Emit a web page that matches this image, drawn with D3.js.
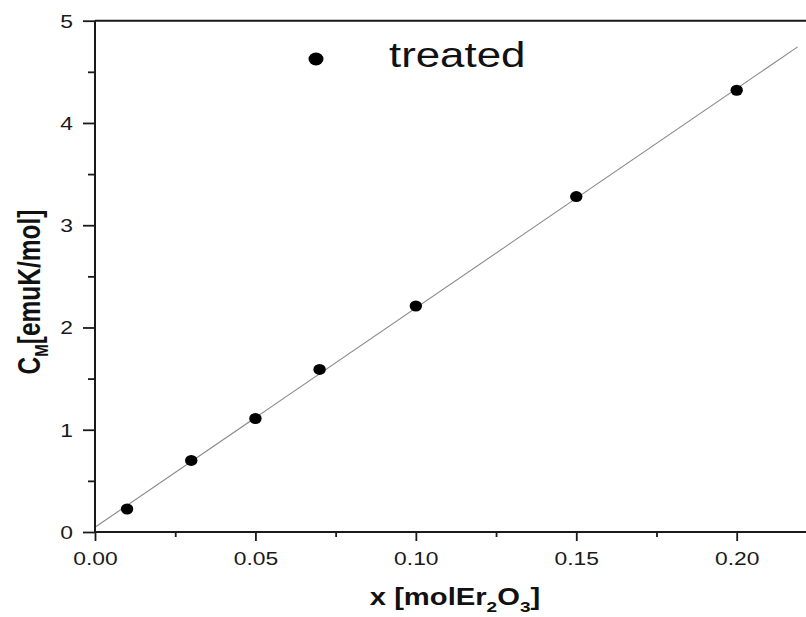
<!DOCTYPE html>
<html>
<head>
<meta charset="utf-8">
<script src="https://cdn.jsdelivr.net/npm/d3@7"></script>
<style>
  html, body { margin: 0; padding: 0; background: #fff; }
  svg { display: block; font-family: "Liberation Sans", Arial, sans-serif; }
</style>
</head>
<body>
<svg id="chart" width="806" height="617"></svg>
<script>
// ---- data ----
const xValues = [0.01, 0.03, 0.05, 0.07, 0.10, 0.15, 0.20];
const yValues = [0.225, 0.70, 1.11, 1.59, 2.21, 3.28, 4.32];
const fitX = [0.0, 0.219];
const fitY = [0.046, 4.744];
const xTickValues = [0.00, 0.05, 0.10, 0.15, 0.20];
const xMinorTicks = [0.025, 0.075, 0.125, 0.175, 0.225];
const yTickValues = [0, 1, 2, 3, 4, 5];
const yMinorTicks = [0.5, 1.5, 2.5, 3.5, 4.5];
const seriesName = "treated";

const SX = 1.27; // horizontal stretch of the original picture's text
const svg = d3.select("#chart");
const plotLeft = 95, plotBottom = 532, plotTop = 20.7;
const x = d3.scaleLinear().domain([0, 0.2216]).range([plotLeft, 806]);
const y = d3.scaleLinear().domain([0, 5]).range([plotBottom, plotTop]);

const axisColor = "#1a1a1a";

// fit line
svg.append("path")
  .datum(fitX.map((v, i) => [v, fitY[i]]))
  .attr("fill", "none")
  .attr("stroke", "#8a8a8a")
  .attr("stroke-width", 1.1)
  .attr("d", d3.line().x(d => x(d[0])).y(d => y(d[1])));

// points
svg.append("g").selectAll("ellipse")
  .data(xValues.map((v, i) => [v, yValues[i]]))
  .join("ellipse")
  .attr("cx", d => x(d[0]))
  .attr("cy", d => y(d[1]))
  .attr("rx", 6.2)
  .attr("ry", 5.5)
  .attr("fill", "#000");

// x axis
const gx = svg.append("g").attr("transform", `translate(0,${plotBottom})`);
gx.call(d3.axisBottom(x).tickValues(xTickValues).tickSize(9).tickPadding(6)
  .tickFormat(d3.format(".2f")));
const gxm = svg.append("g").attr("transform", `translate(0,${plotBottom})`);
gxm.call(d3.axisBottom(x).tickValues(xMinorTicks).tickSize(5).tickFormat(""));
gxm.select(".domain").remove();

// y axis
const gy = svg.append("g").attr("transform", `translate(${plotLeft},0)`);
gy.call(d3.axisLeft(y).tickValues(yTickValues).tickSize(12).tickFormat(d3.format("d")));
const gym = svg.append("g").attr("transform", `translate(${plotLeft},0)`);
gym.call(d3.axisLeft(y).tickValues(yMinorTicks).tickSize(7).tickFormat(""));
gym.select(".domain").remove();

[gx, gxm, gy, gym].forEach(g => {
  g.selectAll("line").attr("stroke", axisColor).attr("stroke-width", 1.8);
  g.select(".domain").attr("stroke", axisColor).attr("stroke-width", 2);
});
gx.select(".domain").attr("d", `M${plotLeft},0H806`);
gy.select(".domain").attr("d", `M0,${plotBottom}V${plotTop}`);

gx.selectAll("text")
  .attr("font-size", 18)
  .attr("fill", "#1a1a1a")
  .attr("font-family", "Liberation Sans, Arial, sans-serif")
  .attr("y", 0).attr("dy", 0)
  .attr("transform", `translate(0,32.8) scale(${SX},1)`);
gy.selectAll("text")
  .attr("font-size", 18)
  .attr("fill", "#1a1a1a")
  .attr("font-family", "Liberation Sans, Arial, sans-serif")
  .attr("x", 0).attr("dy", "0.35em")
  .attr("transform", `translate(-22,0) scale(${SX},1)`);

// top border
svg.append("line")
  .attr("x1", x(0)).attr("x2", 806)
  .attr("y1", y(5)).attr("y2", y(5))
  .attr("stroke", axisColor).attr("stroke-width", 2);

// x title
const xt = svg.append("text")
  .attr("transform", `translate(455,605) scale(${SX},1)`)
  .attr("text-anchor", "middle")
  .attr("font-weight", "bold")
  .attr("font-size", 23)
  .attr("fill", "#111");
xt.append("tspan").text("x [molEr");
xt.append("tspan").attr("font-size", 15).attr("dy", 7).text("2");
xt.append("tspan").attr("dy", -7).text("O");
xt.append("tspan").attr("font-size", 15).attr("dy", 7).text("3");
xt.append("tspan").attr("dy", -7).text("]");

// y title
const yt = svg.append("text")
  .attr("transform", `translate(40,292) scale(${SX},1) rotate(-90)`)
  .attr("text-anchor", "middle")
  .attr("font-weight", "bold")
  .attr("font-size", 24.5)
  .attr("fill", "#111");
yt.append("tspan").text("C");
yt.append("tspan").attr("font-size", 15).attr("dy", 6).text("M");
yt.append("tspan").attr("dy", -6).text("[emuK/mol]");

// legend
svg.append("ellipse")
  .attr("cx", 316).attr("cy", 59).attr("rx", 7.5).attr("ry", 6.5).attr("fill", "#000");
svg.append("text")
  .attr("transform", `translate(389,67) scale(${SX},1)`)
  .attr("font-size", 34.5)
  .attr("fill", "#111")
  .text(seriesName);
</script>
</body>
</html>
